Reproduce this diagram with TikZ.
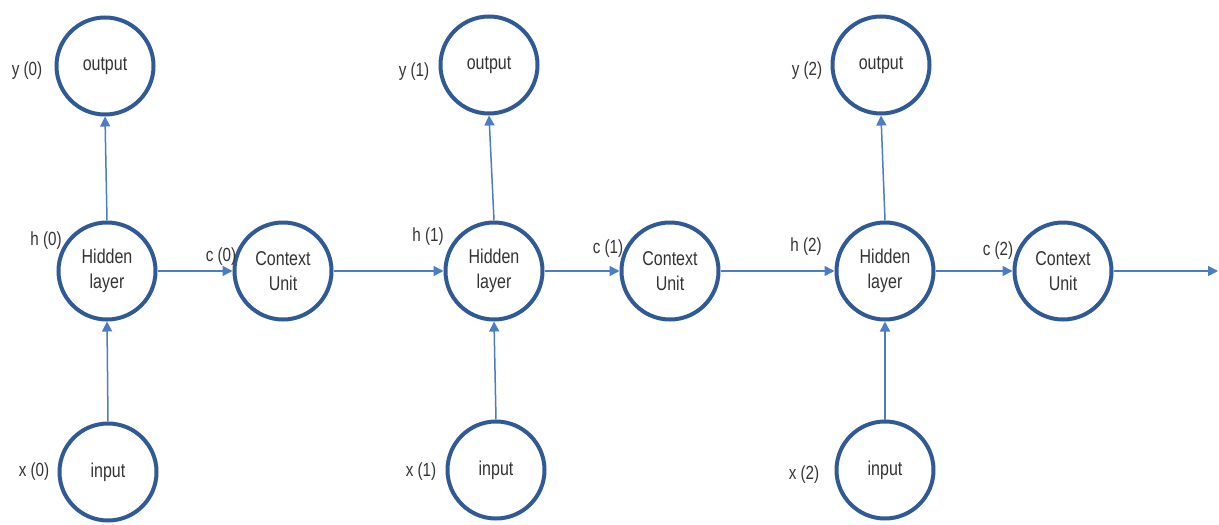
\documentclass[tikz,border=0pt]{standalone}
\usepackage{fontspec}
\setmainfont{Liberation Sans}[FakeStretch=0.8]
\usetikzlibrary{arrows.meta}
\definecolor{ringblue}{HTML}{2F5A96}
\definecolor{lineblue}{HTML}{4A7DC4}
\definecolor{txtgray}{HTML}{333333}
\tikzset{
  unit/.style={circle, draw=ringblue, line width=4pt, minimum size=97pt, inner sep=0pt,
    font=\fontsize{20}{25}\selectfont, text=txtgray, align=center},
  lbl/.style={font=\fontsize{19}{22}\selectfont, text=txtgray, inner sep=0pt},
  conn/.style={draw=lineblue, line width=1.5pt, -{Triangle[length=10pt,width=10pt]}}
}
\begin{document}
\begin{tikzpicture}[x=1pt,y=-1pt]
\useasboundingbox (0,0) rectangle (1219,525);
% column 0
\node[unit] (o0) at (105,66) {output};
\node[unit] (h0) at (107,271) {Hidden\\layer};
\node[unit] (c0) at (283,271) {Context\\Unit};
\node[unit] (i0) at (108,472) {input};
% column 1
\node[unit] (o1) at (489,65) {output};
\node[unit] (h1) at (494,271) {Hidden\\layer};
\node[unit] (c1) at (670,271) {Context\\Unit};
\node[unit] (i1) at (496,470) {input};
% column 2
\node[unit] (o2) at (881,65) {output};
\node[unit] (h2) at (885,271) {Hidden\\layer};
\node[unit] (c2) at (1063,271) {Context\\Unit};
\node[unit] (i2) at (885,470) {input};
\coordinate (end) at (1218,271);
% labels
\node[lbl] (ly0) at (27,71) {y (0)};
\node[lbl] (lh0) at (46,241) {h (0)};
\node[lbl] (lc0) at (221,257) {c (0)};
\node[lbl] (lx0) at (34,472) {x (0)};
\node[lbl] (ly1) at (414,72) {y (1)};
\node[lbl] (lh1) at (428,237) {h (1)};
\node[lbl] (lc1) at (608,249) {c (1)};
\node[lbl] (lx1) at (421,472) {x (1)};
\node[lbl] (ly2) at (807,71) {y (2)};
\node[lbl] (lh2) at (806,247) {h (2)};
\node[lbl] (lc2) at (998,251) {c (2)};
\node[lbl] (lx2) at (804,475) {x (2)};
% connectors
\foreach \k in {0,1,2}{
  \path[conn] (h\k.north) -- (o\k.south);
  \path[conn] (i\k.north) -- (h\k.south);
}
\path[conn] (h0) -- (c0);
\path[conn] (c0) -- (h1);
\path[conn] (h1) -- (c1);
\path[conn] (c1) -- (h2);
\path[conn] (h2) -- (c2);
\path[conn] (c2) -- (end);
\end{tikzpicture}
\end{document}
